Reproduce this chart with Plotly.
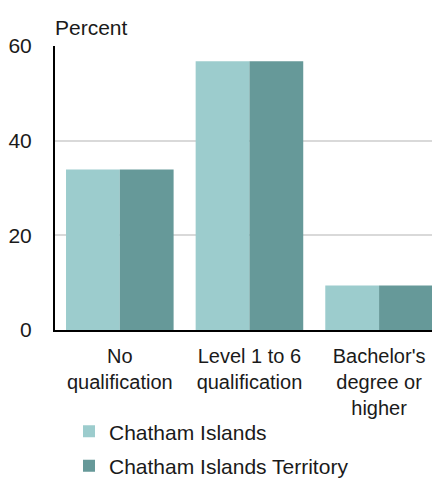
import plotly.graph_objects as go

categories = ["No<br>qualification", "Level 1 to 6<br>qualification", "Bachelor's<br>degree or<br>higher"]
series_names = ["Chatham Islands", "Chatham Islands Territory"]
chatham_islands = [33.9, 56.8, 9.4]
chatham_territory = [33.9, 56.8, 9.4]
y_ticks = [0, 20, 40, 60]

colors = ["#9CCCCD", "#669999"]
font = dict(family="Liberation Sans, Arial, sans-serif", size=21, color="#1a1a1a")
xfont = dict(family="Liberation Sans, Arial, sans-serif", size=20, color="#1a1a1a")

fig = go.Figure()
for i, (name, vals) in enumerate(zip(series_names, [chatham_islands, chatham_territory])):
    fig.add_trace(go.Bar(x=[0, 1, 2], y=vals, name=name, marker=dict(color=colors[i], line=dict(width=0)),
                         legendgroup=name, hoverinfo="skip"))

fig.update_layout(
    width=432, height=510,
    margin=dict(l=47, r=0, t=38, b=188),
    plot_bgcolor="white", paper_bgcolor="white",
    font=font,
    barmode="group", bargap=0.17, bargroupgap=0,
    showlegend=True,
    legend=dict(orientation="v", x=(69 - 55) / 385, xanchor="left", y=-0.286, yanchor="top",
                tracegroupgap=4, font=font, itemwidth=30, bgcolor="rgba(0,0,0,0)"),
    xaxis=dict(tickmode="array", tickvals=[0, 1, 2], ticktext=categories, range=[-0.5, 2.47],
               showline=True, linecolor="black", linewidth=2, ticks="", showgrid=False, zeroline=False,
               ticklabelstandoff=7, tickfont=xfont),
    yaxis=dict(range=[0, 60], tickvals=y_ticks, showline=True, linecolor="black", linewidth=2,
               showgrid=True, gridcolor="#D9D9D9", gridwidth=2, zeroline=False, ticks="",
               ticklabelstandoff=17, tickfont=font),
    annotations=[dict(text="Percent", xref="paper", yref="paper", x=0, y=1, xanchor="left", yanchor="bottom",
                      xshift=-2, yshift=5, showarrow=False, font=font)],
)

fig.write_html("out.html")
